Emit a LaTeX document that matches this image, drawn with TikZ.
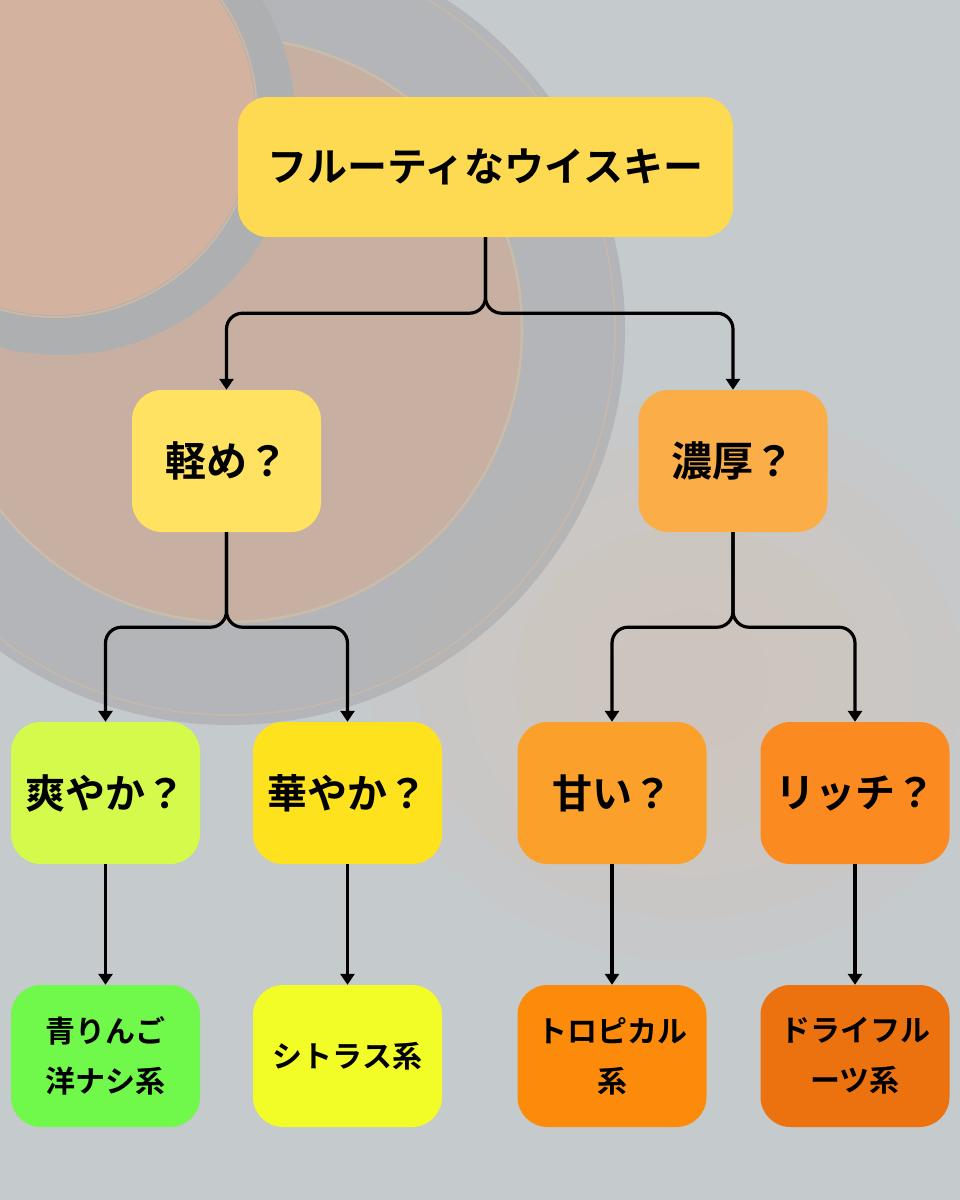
\documentclass[tikz,border=0pt]{standalone}
\usepackage{fontspec}
\newfontfamily\jp{Noto Sans CJK JP Bold}
\usetikzlibrary{arrows.meta}
\definecolor{bgbase}{HTML}{C5CACD}
\definecolor{bgwarm}{HTML}{DCC3B2}
\definecolor{ringdark}{HTML}{A7A6A8}
\definecolor{discwarm}{HTML}{CDA68E}
\definecolor{tlwarm}{HTML}{D8AC91}
\definecolor{glint}{HTML}{E2B98F}
\definecolor{cTop}{HTML}{FEDA52}
\definecolor{cLight}{HTML}{FFE262}
\definecolor{cRich}{HTML}{FBAE48}
\definecolor{cSou}{HTML}{D4FB4B}
\definecolor{cHana}{HTML}{FFE21E}
\definecolor{cAmai}{HTML}{FCA02C}
\definecolor{cRicchi}{HTML}{FB8A20}
\definecolor{cAo}{HTML}{70F84A}
\definecolor{cCit}{HTML}{F2FC27}
\definecolor{cTro}{HTML}{FD8B0B}
\definecolor{cDry}{HTML}{EB720F}
\tikzset{
  box/.style={rounded corners=30pt, inner sep=0pt, align=center, text=black},
  wide/.style={box, minimum width=495pt, minimum height=140pt, font=\jp\fontsize{40pt}{44pt}\selectfont},
  q2/.style={box, minimum width=189pt, minimum height=142pt, font=\jp\fontsize{41pt}{46pt}\selectfont},
  q3/.style={box, minimum width=189pt, minimum height=142pt, font=\jp\fontsize{40pt}{46pt}\selectfont},
  leaf/.style={box, minimum width=189pt, minimum height=142pt, font=\jp\fontsize{30pt}{50pt}\selectfont},
  conn/.style={line width=3.2pt, rounded corners=16pt, -{Triangle[width=14pt,length=11pt]}},
  straight/.style={line width=3.2pt, -{Triangle[width=14pt,length=11pt]}}
}
\begin{document}
\begin{tikzpicture}[x=1pt,y=-1pt]
\useasboundingbox (0,0) rectangle (960,1200);
% background (washed whisky swirl)
\begin{scope}
\clip (0,0) rectangle (960,1200);
\fill[bgbase] (0,0) rectangle (960,1200);
\foreach \s in {1.0,0.85,0.7,0.55,0.4,0.25}
  \fill[bgwarm, opacity=0.16] (690,680) ellipse ({320*\s} and {280*\s});
\fill[ringdark, opacity=0.75] (230,330) circle (395);
\fill[discwarm, opacity=0.85] (230,330) circle (290);
\draw[glint, line width=2.5pt, opacity=0.7] (230,330) circle (292);
\draw[glint, line width=1.5pt, opacity=0.5] (230,330) circle (385);
\fill[ringdark] (60,120) circle (235);
\fill[tlwarm] (55,115) circle (200);
\draw[glint, line width=2pt, opacity=0.7] (55,115) circle (202);
\fill[bgbase, opacity=0.25] (0,0) rectangle (960,1200);
\end{scope}
% nodes
\node[wide, fill=cTop] (top) at (485.5,167) {フルーティなウイスキー};
\node[q2, fill=cLight] (light) at (226.5,461) {軽め？};
\node[q2, fill=cRich] (rich) at (733,461) {濃厚？};
\node[q3, fill=cSou] (sou) at (105.5,793) {爽やか？};
\node[q3, fill=cHana] (hana) at (347.5,793) {華やか？};
\node[q3, fill=cAmai] (amai) at (612,793) {甘い？};
\node[q3, fill=cRicchi] (ricchi) at (855,793) {リッチ？};
\node[leaf, fill=cAo] (ao) at (105.5,1056) {青りんご\\洋ナシ系};
\node[leaf, fill=cCit] (cit) at (347.5,1056) {シトラス系};
\node[leaf, fill=cTro] (tro) at (612,1056) {トロピカル\\系};
\node[leaf, fill=cDry] (dry) at (855,1056) {ドライフル\\ーツ系};
% connectors
\draw[conn] (top.south) -- ++(0,76) -| (light.north);
\draw[conn] (top.south) -- ++(0,76) -| (rich.north);
\draw[conn] (light.south) -- ++(0,95) -| (sou.north);
\draw[conn] (light.south) -- ++(0,95) -| (hana.north);
\draw[conn] (rich.south) -- ++(0,95) -| (amai.north);
\draw[conn] (rich.south) -- ++(0,95) -| (ricchi.north);
\draw[straight] (sou.south) -- (ao.north);
\draw[straight] (hana.south) -- (cit.north);
\draw[straight] (amai.south) -- (tro.north);
\draw[straight] (ricchi.south) -- (dry.north);
\end{tikzpicture}
\end{document}
